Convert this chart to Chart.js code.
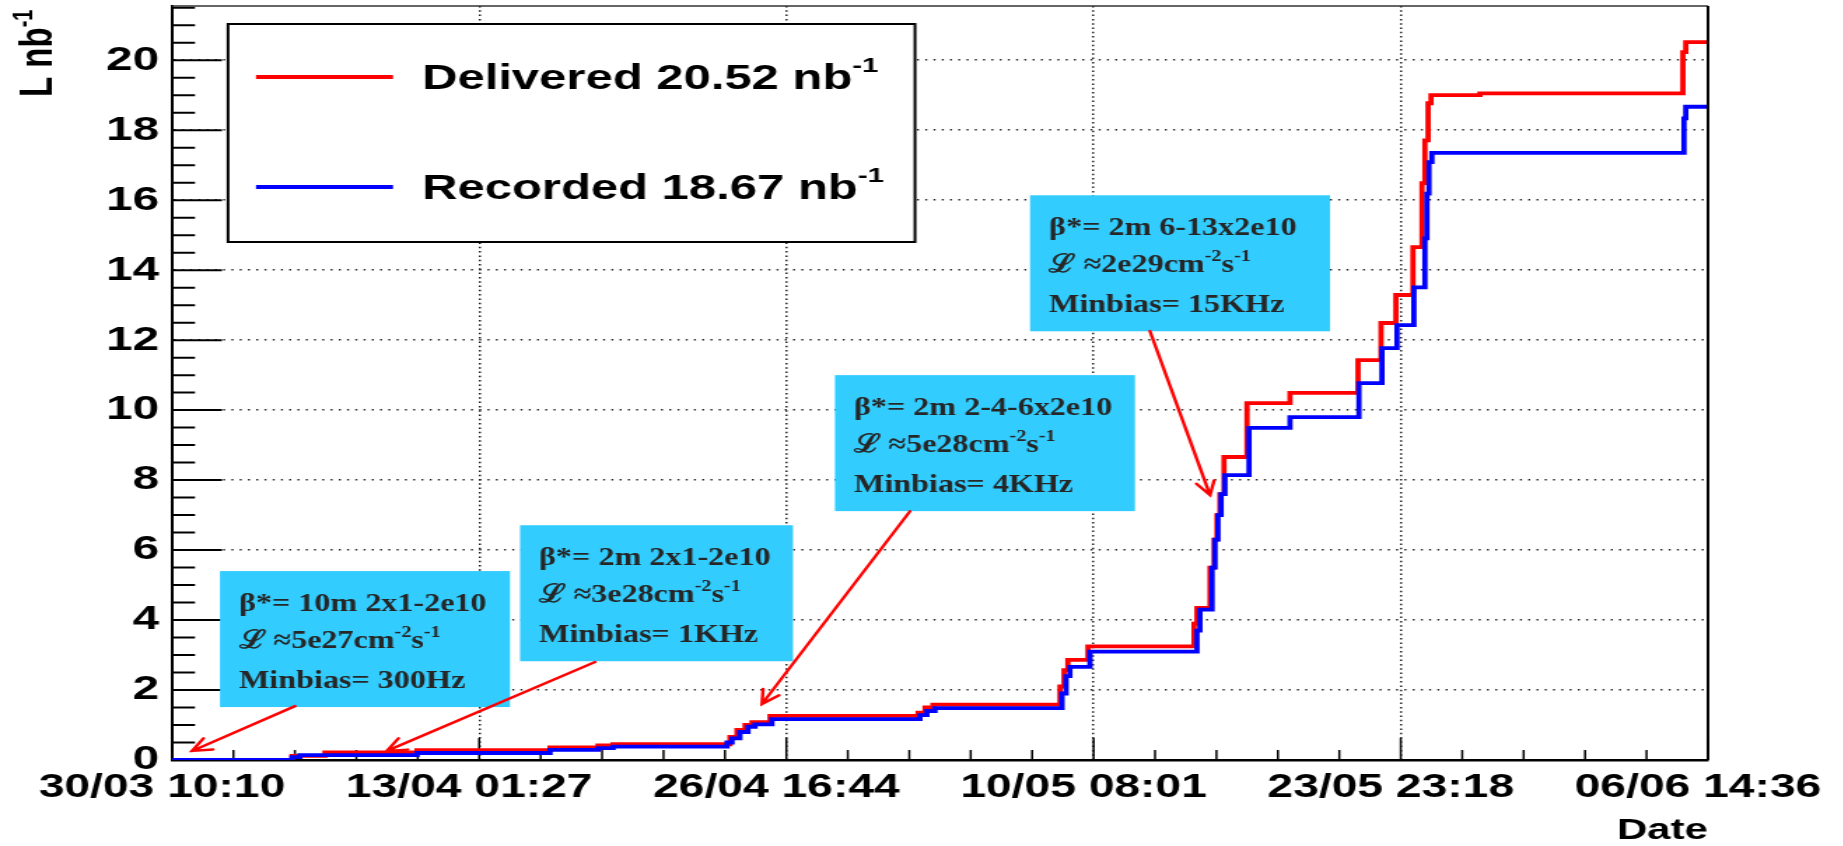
<!DOCTYPE html>
<html>
<head>
<meta charset="utf-8">
<script src="https://cdn.jsdelivr.net/npm/chart.js@4.4.1/dist/chart.umd.min.js"></script>
<style>
  html, body { margin: 0; padding: 0; background: #fff; overflow: hidden; }
  #wrap { height: 846px; transform-origin: 0 0; }
</style>
</head>
<body>
<div id="wrap"><canvas id="chart"></canvas></div>
<script>
// x: days since 30/03 10:10, y: integrated luminosity (nb^-1)
const deliveredDays = [0, 5.33, 6.79, 10.88, 16.78, 18.91, 19.58, 24.77, 25.08, 25.44, 25.75, 26.55,
  33.12, 33.43, 33.78, 39.42, 39.60, 39.77, 40.66, 45.37, 45.50, 46.08, 46.26, 46.39, 46.52, 46.70,
  47.72, 49.63, 52.65, 53.67, 54.33, 55.09, 55.49, 55.62, 55.76, 55.89, 58.06, 67.07, 67.20, 68.18];
const deliveredLumi = [0, 0.12, 0.22, 0.28, 0.36, 0.42, 0.45, 0.66, 0.86, 1.0, 1.08, 1.26,
  1.35, 1.5, 1.58, 2.1, 2.57, 2.86, 3.25, 3.9, 4.35, 5.5, 6.3, 7.0, 7.6, 8.66,
  10.2, 10.49, 11.43, 12.49, 13.29, 14.66, 16.49, 17.71, 18.77, 19.0, 19.05, 20.23, 20.52, 20.52];

const recordedDays = [0, 5.33, 5.68, 10.88, 16.78, 18.91, 19.58, 24.64, 24.86, 25.21, 25.57, 25.88, 26.63,
  33.20, 33.51, 33.87, 39.51, 39.69, 39.86, 40.75, 45.50, 45.63, 46.17, 46.30, 46.43, 46.57, 46.74,
  47.81, 49.63, 52.69, 53.71, 54.38, 55.13, 55.62, 55.71, 55.80, 55.93, 67.12, 67.20, 68.18];
const recordedLumi = [0, 0.08, 0.14, 0.2, 0.29, 0.34, 0.38, 0.5, 0.62, 0.8, 0.95, 1.02, 1.17,
  1.28, 1.4, 1.48, 1.9, 2.4, 2.66, 3.1, 3.7, 4.3, 5.5, 6.3, 7.0, 7.6, 8.14,
  9.49, 9.8, 10.77, 11.77, 12.43, 13.51, 14.91, 16.19, 17.09, 17.35, 18.34, 18.67, 18.67];

const seriesNames = ["Delivered", "Recorded"];
const seriesTotals = ["20.52", "18.67"];

const tickLabels = ["30/03 10:10", "13/04 01:27", "26/04 16:44", "10/05 08:01", "23/05 23:18", "06/06 14:36"];
const tickStep = 13.6368; // 13d 15h17m between labelled dates
const yTicks = [0, 2, 4, 6, 8, 10, 12, 14, 16, 18, 20];

// beam condition notes
const noteText = [
  ["β*= 10m 2x1-2e10", "ℒ ≈5e27cm^{-2}s^{-1}", "Minbias= 300Hz"],
  ["β*= 2m 2x1-2e10", "ℒ ≈3e28cm^{-2}s^{-1}", "Minbias= 1KHz"],
  ["β*= 2m 2-4-6x2e10", "ℒ ≈5e28cm^{-2}s^{-1}", "Minbias= 4KHz"],
  ["β*= 2m 6-13x2e10", "ℒ ≈2e29cm^{-2}s^{-1}", "Minbias= 15KHz"]
];
// box corner, arrow start and arrow tip in (day, lumi)
const noteBox = [[2.13, 5.4], [15.45, 6.71], [29.43, 11.0], [38.09, 16.14]];
const noteWidth = [290, 273, 300, 300];
const arrowFrom = [[5.46, 1.54], [18.78, 2.8], [32.76, 7.11], [43.41, 12.26]];
const arrowTo = [[0.89, 0.26], [9.54, 0.26], [26.19, 1.6], [46.08, 7.57]];

// the original picture is stretched sideways; draw narrow, then stretch by K
const K = 1.4;
const W = 1843;
const wrap = document.getElementById("wrap");
wrap.style.width = (W / K) + "px";
wrap.style.transform = "scaleX(" + K + ")";
const hx = (v) => v / K; // horizontal size in final pixels -> canvas pixels

const sans = '"Liberation Sans", Arial, sans-serif';
const serif = '"Liberation Serif", "Times New Roman", serif';

function toPoints(xs, ys) {
  return xs.map((d, i) => ({ x: d, y: ys[i] }));
}

// text with ^{...} superscripts, optional extra horizontal squeeze
function richText(ctx, text, x, y, font, size, supSize, rise, sx) {
  const re = /\^\{([^}]*)\}/g;
  const runs = [];
  let last = 0, m;
  while ((m = re.exec(text))) {
    if (m.index > last) runs.push([text.slice(last, m.index), false]);
    runs.push([m[1], true]);
    last = re.lastIndex;
  }
  if (last < text.length) runs.push([text.slice(last), false]);
  ctx.save();
  ctx.translate(x, y);
  ctx.scale(sx || 1, 1);
  let cx = 0;
  runs.forEach(([s, sup]) => {
    ctx.font = "bold " + (sup ? supSize : size) + "px " + font;
    ctx.fillText(s, cx, sup ? -rise : 0);
    cx += ctx.measureText(s).width;
  });
  ctx.restore();
}

const rootStyle = {
  id: "rootStyle",
  beforeDatasetsDraw(chart) {
    const { ctx, chartArea: a, scales: { x, y } } = chart;
    ctx.save();
    ctx.strokeStyle = "#000";
    ctx.lineWidth = 2;
    ctx.beginPath();
    for (let i = 0; i * 0.5 <= y.max; i++) {
      const py = y.getPixelForValue(i * 0.5);
      ctx.moveTo(a.left, py);
      ctx.lineTo(a.left + hx(i % 4 === 0 ? 50 : 23), py);
    }
    ctx.stroke();
    ctx.lineWidth = 1.5;
    ctx.beginPath();
    for (let i = 0; i <= 25; i++) {
      const px = x.getPixelForValue(i * tickStep / 5);
      ctx.moveTo(px, a.bottom);
      ctx.lineTo(px, a.bottom - (i % 5 === 0 ? 22 : 10));
    }
    ctx.stroke();
    ctx.restore();
  },
  afterDatasetsDraw(chart) {
    const { ctx, chartArea: a, scales: { x, y } } = chart;
    ctx.save();

    // frame top / right
    ctx.strokeStyle = "#333";
    ctx.lineWidth = 1.5;
    ctx.beginPath();
    ctx.moveTo(a.left, a.top);
    ctx.lineTo(a.right, a.top);
    ctx.stroke();
    ctx.strokeStyle = "#000";
    ctx.lineWidth = 2;
    ctx.beginPath();
    ctx.moveTo(a.right, a.top);
    ctx.lineTo(a.right, a.bottom);
    ctx.stroke();

    // notes
    noteText.forEach((lines, i) => {
      const bx = x.getPixelForValue(noteBox[i][0]);
      const by = y.getPixelForValue(noteBox[i][1]);
      ctx.fillStyle = "#33ccff";
      ctx.fillRect(bx, by, hx(noteWidth[i]), 136);
      ctx.fillStyle = "#262626";
      ctx.textBaseline = "alphabetic";
      ctx.textAlign = "left";
      [40, 77, 117].forEach((dy, j) => {
        richText(ctx, lines[j], bx + hx(19), by + dy, serif, 25.5, 16, 11, 0.9);
      });
    });

    // arrows
    ctx.strokeStyle = "#ff0000";
    ctx.lineWidth = 2.4;
    ctx.lineCap = "round";
    arrowFrom.forEach((f, i) => {
      const x0 = x.getPixelForValue(f[0]), y0 = y.getPixelForValue(f[1]);
      const x1 = x.getPixelForValue(arrowTo[i][0]), y1 = y.getPixelForValue(arrowTo[i][1]);
      const ang = Math.atan2(y1 - y0, x1 - x0);
      ctx.beginPath();
      ctx.moveTo(x0, y0);
      ctx.lineTo(x1, y1);
      ctx.moveTo(x1 - 15 * Math.cos(ang - 0.45), y1 - 15 * Math.sin(ang - 0.45));
      ctx.lineTo(x1, y1);
      ctx.lineTo(x1 - 15 * Math.cos(ang + 0.45), y1 - 15 * Math.sin(ang + 0.45));
      ctx.stroke();
    });

    // legend
    const lx = hx(228), ly = a.top + 18, lw = hx(915 - 228), lh = 218;
    ctx.fillStyle = "#fff";
    ctx.fillRect(lx, ly, lw, lh);
    ctx.strokeStyle = "#000";
    ctx.lineWidth = 2;
    ctx.strokeRect(lx, ly, lw, lh);
    chart.data.datasets.forEach((ds, i) => {
      const cy = ly + 53 + i * 110;
      ctx.strokeStyle = ds.borderColor;
      ctx.lineWidth = 3.8;
      ctx.lineCap = "butt";
      ctx.beginPath();
      ctx.moveTo(hx(256), cy);
      ctx.lineTo(hx(393), cy);
      ctx.stroke();
      ctx.fillStyle = "#000";
      ctx.textBaseline = "middle";
      richText(ctx, seriesNames[i] + " " + seriesTotals[i] + " nb^{-1}", hx(422), cy + 2, sans, 35, 21, 13);
    });

    // y axis title, rotated
    ctx.translate(hx(52), 97);
    ctx.rotate(-Math.PI / 2);
    ctx.fillStyle = "#000";
    ctx.textBaseline = "alphabetic";
    richText(ctx, "L nb^{-1}", 0, 0, sans, 33, 20, 14);
    ctx.restore();
  }
};

new Chart(document.getElementById("chart"), {
  type: "line",
  data: {
    datasets: [
      {
        label: seriesNames[0],
        data: toPoints(deliveredDays, deliveredLumi),
        borderColor: "#ff0000",
        borderWidth: 3.8,
        stepped: "before",
        pointRadius: 0,
        fill: false,
        order: 1
      },
      {
        label: seriesNames[1],
        data: toPoints(recordedDays, recordedLumi),
        borderColor: "#0000ff",
        borderWidth: 3.8,
        stepped: "before",
        pointRadius: 0,
        fill: false,
        order: 0
      }
    ]
  },
  options: {
    responsive: true,
    maintainAspectRatio: false,
    animation: false,
    layout: { padding: { top: 6, right: hx(W - 1708), left: 0, bottom: 0 } },
    plugins: { legend: { display: false }, tooltip: { enabled: false } },
    scales: {
      x: {
        type: "linear",
        min: 0,
        max: 5 * tickStep,
        afterBuildTicks: (s) => { s.ticks = tickLabels.map((t, i) => ({ value: i * tickStep })); },
        afterFit: (s) => { s.height = 86; s.paddingLeft = 0; s.paddingRight = 0; },
        ticks: {
          callback: (v, i) => tickLabels[i],
          autoSkip: false,
          maxRotation: 0,
          padding: 8,
          labelOffset: -hx(10),
          color: "#000",
          font: { family: sans, size: 33, weight: "bold" }
        },
        grid: { color: "#222", lineWidth: 1.5, drawTicks: false },
        border: { color: "#000", width: 2.5, dash: [1.5, 2.8] },
        title: {
          display: true,
          text: "Date",
          align: "end",
          color: "#000",
          padding: { top: 0, bottom: 0 },
          font: { family: sans, size: 30, weight: "bold", lineHeight: 1 }
        }
      },
      y: {
        min: 0,
        max: 21.55,
        afterBuildTicks: (s) => { s.ticks = yTicks.map((v) => ({ value: v })); },
        afterFit: (s) => { s.width = hx(172); s.paddingTop = 0; s.paddingBottom = 0; },
        ticks: {
          padding: hx(13),
          color: "#000",
          font: { family: sans, size: 34, weight: "bold" }
        },
        grid: { color: "#222", lineWidth: 1.5, drawTicks: false },
        border: { color: "#000", width: 2, dash: [1.4, 4.5] }
      }
    }
  },
  plugins: [rootStyle]
});
</script>
</body>
</html>
